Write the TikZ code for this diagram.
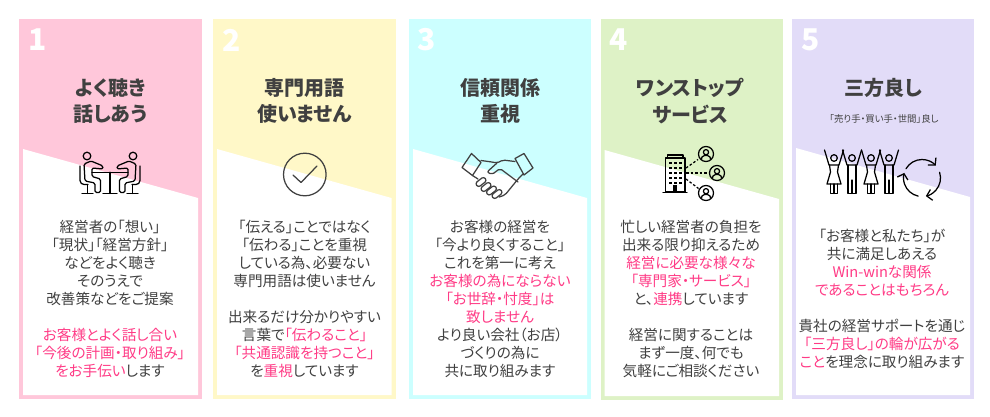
\documentclass[tikz,border=0pt]{standalone}
\usepackage{fontspec}
\setmainfont[RawFeature={+palt}]{Noto Sans CJK JP}
\usetikzlibrary{arrows.meta,calc}
\definecolor{ink}{HTML}{404040}
\definecolor{hot}{HTML}{FF3B86}
\definecolor{cpink}{HTML}{FFC7DA}
\definecolor{cyellow}{HTML}{FFF8C8}
\definecolor{ccyan}{HTML}{CCFFFF}
\definecolor{cgreen}{HTML}{DEF2C6}
\definecolor{clav}{HTML}{E2DCF8}
\newcommand{\hl}[1]{\textcolor{hot}{#1}}
\newcommand{\cardshape}[6]{%
  \fill[#6] (#1,19) rectangle (#2,#3);
  \fill[white] (#1+4,#4) -- (#2-4,#5) -- (#2-4,#3-3.5) -- (#1+4,#3-3.5) -- cycle;}
\tikzset{
  numlabel/.style={text=white,font=\fontsize{30}{30}\selectfont\bfseries,anchor=center,inner sep=0pt},
  titlelabel/.style={text=ink,font=\fontsize{20}{26.5}\selectfont\bfseries,align=center,anchor=north,inner sep=0pt},
  bodylabel/.style={text=ink,font=\fontsize{14.6}{18.02}\selectfont,align=center,anchor=north,inner sep=0pt},
  sublabel/.style={text=ink,font=\fontsize{9.4}{10}\selectfont,anchor=center,inner sep=0pt},
  icon/.style={draw=#1,line width=1.25pt,line join=round,line cap=round},
  icon/.default=ink
}
\begin{document}
\begin{tikzpicture}[x=1pt,y=-1pt]
\useasboundingbox (0,0) rectangle (990,416);
\fill[white] (0,0) rectangle (990,416);
\cardshape{19}{202}{398.5}{149}{198}{cpink}
\cardshape{213}{395.5}{398.5}{149}{198}{cyellow}
\cardshape{409}{591}{398.5}{149}{198}{ccyan}
\cardshape{600.5}{783}{399.5}{150}{199}{cgreen}
\cardshape{792}{974}{398.5}{148}{197}{clav}

\node[numlabel] (n1) at (37.5,40) {1};
\node[numlabel] (n2) at (232,40) {2};
\node[numlabel] (n3) at (427,40) {3};
\node[numlabel] (n4) at (619,40) {4};
\node[numlabel] (n5) at (811,40) {5};

\node[titlelabel] (t1) at (110.5,78) {よく聴き\\話しあう};
\node[titlelabel] (t2) at (304.5,78) {専門用語\\使いません};
\node[titlelabel] (t3) at (500,78) {信頼関係\\重視};
\node[titlelabel] (t4) at (690,78) {ワンストップ\\サービス};
\node[titlelabel] (t5) at (883,78) {三方良し};
\node[sublabel] (s5) at (884,119) {「売り手・買い手・世間」良し};

\node[bodylabel] (b1) at (110,219.5) {経営者の「想い」\\「現状」「経営方針」\\などをよく聴き\\そのうえで\\改善策などをご提案\\~\\\hl{お客様とよく話し合い}\\\hl{「今後の計画・取り組み」}\\\hl{をお手伝い}します};
\node[bodylabel] (b2) at (304.5,219.5) {「伝える」ことではなく\\「伝わる」ことを重視\\している為、必要ない\\専門用語は使いません\\~\\出来るだけ分かりやすい\\言葉で\hl{「伝わること」}\\\hl{「共通認識を持つこと」}\\を\hl{重視}しています};
\node[bodylabel] (b3) at (500,219.5) {お客様の経営を\\「今より良くすること」\\これを第一に考え\\\hl{お客様の為にならない}\\\hl{「お世辞・忖度」は}\\\hl{致しません}\\より良い会社（お店）\\づくりの為に\\共に取り組みます};
\node[bodylabel] (b4) at (691,219.5) {忙しい経営者の負担を\\出来る限り抑えるため\\\hl{経営に必要な様々な}\\\hl{「専門家・サービス」}\\と、\hl{連携}しています\\~\\経営に関することは\\まず一度、何でも\\気軽にご相談ください};
\node[bodylabel] (b5) at (882,229) {「お客様と私たち」が\\共に満足しあえる\\\hl{Win-winな関係}\\\hl{であることはもちろん}\\~\\貴社の経営サポートを通じ\\\hl{「三方良し」の輪が広がる}\\\hl{こと}を理念に取り組みます};

% icon 1: two people at a table
\draw[icon=black] (87,156) circle (3.8) (133,156) circle (3.8);
\foreach \m/\o in {1/0,-1/220}{
\begin{scope}[shift={(\o,0)},xscale=\m]
 \draw[icon=black,rounded corners=1.5pt] (91,161) -- (103,166) -- (103,169) -- (92,168) -- (92,176.5) -- (100.5,179) -- (100.5,192.5) -- (95,192.5) -- (95,183) -- (85,181) -- (84,164) -- cycle;
 \draw[icon=black,rounded corners=4pt] (80,166) -- (80,184.5) -- (88,184.5);
 \draw[icon=black] (87.5,184.5) -- (87.5,193.5) (82,193.5) -- (93,193.5);
\end{scope}}
\draw[icon=black] (92,172.3) -- (128,172.3) (110,172.3) -- (110,193.5) (103,193.5) -- (117,193.5);

% icon 2: check mark in a circle
\draw[icon] (304.8,174.5) circle (21.3);
\draw[icon] (293,175) -- (301,182.5) -- (317,166);

% icon 3: handshake
\begin{scope}[line width=1.4pt]
\draw[icon] (471.5,153.5) -- (481,162.5) -- (472.5,175.5) -- (462,167.5) -- cycle;
\draw[icon] (515,158.5) -- (524,153.5) -- (533,168) -- (524,175) -- cycle;
\draw[icon,rounded corners=2pt] (481,160.5) -- (492,162) -- (497,163) -- (503,160) -- (515,161.5);
\draw[icon,rounded corners=2pt] (497,163) -- (487,172) -- (492,174.5) -- (500,168.5) -- (518,182);
\draw[icon,rounded corners=2pt] (523,174) -- (518,179) -- (505,195) -- (499,197);
\draw[icon] (472.5,175.5) -- (478,179);
\foreach \cx/\cy in {481/182,486/187,491.5/190.5,497/194}{
 \draw[icon,rotate around={38:(\cx,\cy)},fill=white,rounded corners=2.5pt] (\cx-5.5,\cy-2.6) rectangle (\cx+5.5,\cy+2.6);}
\end{scope}

% icon 4: building and three people
\draw[icon=black] (665.5,158) rectangle (685,192) (667.5,158) -- (667.5,155) -- (683,155) -- (683,158) (663,192.3) -- (687,192.3);
\fill[black] (672.5,185) rectangle (677,192);
\foreach \wx in {670.5,675.5,680.5}{\foreach \wy in {163,168,173,178,183}{
 \fill[black] (\wx-1.2,\wy-1.2) rectangle (\wx+1.2,\wy+1.2);}}
\foreach \px/\py in {706/154,717/173,706/193}{
 \draw[icon=black] (\px,\py) circle (7.5) (\px,\py-1.8) circle (2.6);
 \draw[icon=black] (\px-4.5,\py+5) -- (\px-4,\py+3) -- (\px-1.5,\py+1.5) -- (\px+1.5,\py+1.5) -- (\px+4,\py+3) -- (\px+4.5,\py+5);
}
\draw[icon=black,dashed,dash pattern=on 2.5pt off 2pt,line cap=butt] (686,168) -- (698,159.5);
\draw[icon=black,dashed,dash pattern=on 2.5pt off 2pt,line cap=butt] (686,173) -- (708.5,173);
\draw[icon=black,dashed,dash pattern=on 2.5pt off 2pt,line cap=butt] (686,179) -- (698.5,188.5);

% icon 5: four figures and a cycle
\foreach \hx/\kind in {834/w,852/m,871/w,889/m}{
 \draw[icon=black] (\hx,158) circle (3.3);
 \draw[icon=black] (\hx-9.5,150) -- (\hx-5,165) -- (\hx+5,165) -- (\hx+9.5,150);
}
\foreach \hx in {834,871}{
 \draw[icon=black] (\hx-4.5,165) -- (\hx-3.5,172) -- (\hx-7,184) -- (\hx+7,184) -- (\hx+3.5,172) -- (\hx+4.5,165);
 \draw[icon=black] (\hx-3.5,184) -- (\hx-3.5,193.5) -- (\hx+3.5,193.5) -- (\hx+3.5,184) (\hx,184) -- (\hx,193.5);
}
\foreach \hx in {852,889}{
 \draw[icon=black] (\hx-4,165) -- (\hx-4,193.5) -- (\hx+4,193.5) -- (\hx+4,165) (\hx,180) -- (\hx,193.5);
}
\coordinate (cyc) at (922,178);
\foreach \a/\b in {-150/-42,-18/78,102/196}{
 \draw[icon=black,-{Straight Barb[length=5pt,width=11pt]}] ($(cyc)+(\a:18.5)$) arc (\a:\b:18.5);
}
\end{tikzpicture}
\end{document}
